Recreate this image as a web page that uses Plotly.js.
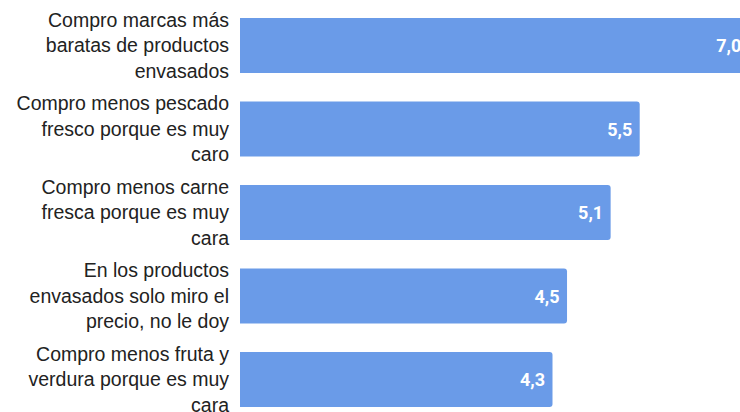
<!DOCTYPE html>
<html><head><meta charset="utf-8">
<script src="https://cdn.plot.ly/plotly-3.0.1.min.js"></script>
<style>html,body{margin:0;padding:0;background:#fff}#c{width:740px;height:412px}</style>
</head><body><div id="c"></div>
<script>
const categories = [
  "Compro marcas más<br>baratas de productos<br>envasados",
  "Compro menos pescado<br>fresco porque es muy<br>caro",
  "Compro menos carne<br>fresca porque es muy<br>cara",
  "En los productos<br>envasados solo miro el<br>precio, no le doy",
  "Compro menos fruta y<br>verdura porque es muy<br>cara"
];
const values = [7.0, 5.5, 5.1, 4.5, 4.3];
const valueLabels = ["7,0", "5,5", "5,1", "4,5", "4,3"];

Plotly.newPlot('c', [{
  type: 'bar', orientation: 'h',
  y: categories, x: values,
  text: valueLabels,
  texttemplate: '<b>%{text}</b>\u00a0',
  textposition: 'inside', insidetextanchor: 'end', textangle: 0,
  insidetextfont: {family: 'Roboto, Arial, sans-serif', size: 18, color: '#ffffff'},
  marker: {color: '#6a9be8', line: {width: 0}},
  cliponaxis: true,
  hoverinfo: 'skip'
}], {
  width: 740, height: 412,
  margin: {l: 240, r: 0, t: 0, b: 0, pad: 0},
  paper_bgcolor: '#ffffff', plot_bgcolor: '#ffffff',
  bargap: 0.34, barcornerradius: 3,
  showlegend: false,
  xaxis: {range: [0, 6.88], visible: false, fixedrange: true},
  yaxis: {type: 'category', range: [4.389, -0.545], showgrid: false, zeroline: false, showline: false,
          ticks: '', ticklabelstandoff: 10,
          tickfont: {family: '"Liberation Sans", Arial, sans-serif', size: 19.5, color: '#222222'}}
}, {staticPlot: true});
</script></body></html>
